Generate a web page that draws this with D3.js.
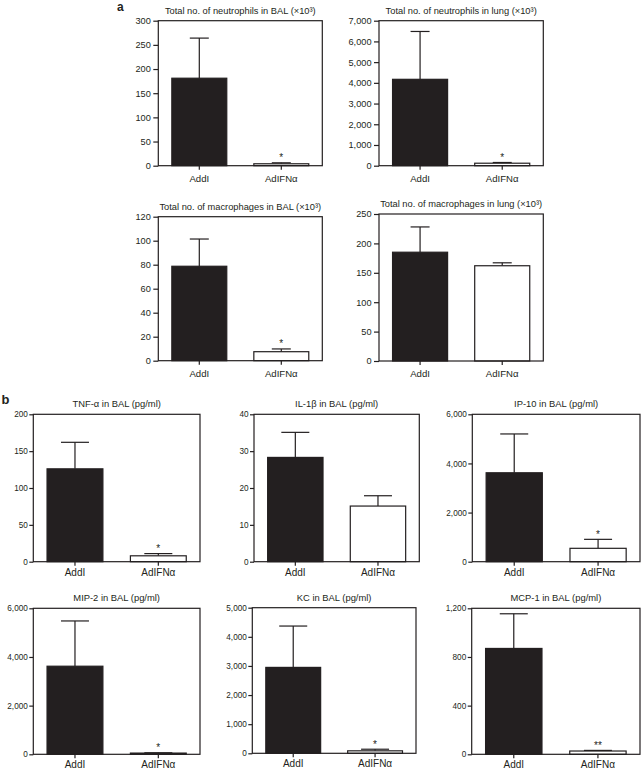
<!DOCTYPE html>
<html>
<head>
<meta charset="utf-8">
<script src="https://cdn.jsdelivr.net/npm/d3@7"></script>
<style>
  html, body { margin: 0; padding: 0; background: #fff; }
  svg { display: block; }
  text { font-family: "Liberation Sans", Arial, Helvetica, sans-serif; fill: #231f20; }
</style>
</head>
<body>
<svg id="chart" width="643" height="771"></svg>
<script>
// ---------------- data ----------------
const categories = ["AddI", "AdIFN\u03b1"];

const titles = [
  "Total no. of neutrophils in BAL (\u00d710\u00b3)",
  "Total no. of neutrophils in lung (\u00d710\u00b3)",
  "Total no. of macrophages in BAL (\u00d710\u00b3)",
  "Total no. of macrophages in lung (\u00d710\u00b3)",
  "TNF-\u03b1 in BAL (pg/ml)",
  "IL-1\u03b2 in BAL (pg/ml)",
  "IP-10 in BAL (pg/ml)",
  "MIP-2 in BAL (pg/ml)",
  "KC in BAL (pg/ml)",
  "MCP-1 in BAL (pg/ml)"
];

const means = [
  [181, 4],
  [4170, 120],
  [78.7, 7.5],
  [185, 162],
  [126, 8],
  [28.3, 15.1],
  [3620, 545],
  [3620, 50],
  [2950, 85],
  [870, 27]
];

const sems = [
  [83, 2],
  [2310, 35],
  [22.7, 2.3],
  [43, 5],
  [36, 3],
  [6.8, 2.8],
  [1580, 365],
  [1860, 12],
  [1420, 55],
  [285, 5]
];

const significance = [
  ["", "*"],
  ["", "*"],
  ["", "*"],
  ["", ""],
  ["", "*"],
  ["", ""],
  ["", "*"],
  ["", "*"],
  ["", "*"],
  ["", "**"]
];

const yMax = [300, 7000, 120, 250, 200, 40, 6000, 6000, 5000, 1200];
const yTickStep = [50, 1000, 20, 50, 50, 10, 2000, 2000, 1000, 400];

const fillColors = ["#231f20", "#ffffff"];

// ---------------- layout (pixel frames per panel) ----------------
const frames = [
  {x0: 158.3, x1: 322.3, y0: 20.7,  y1: 165.7, grp: "a"},
  {x0: 379,   x1: 543.3, y0: 20.7,  y1: 165.7, grp: "a"},
  {x0: 158.3, x1: 322.3, y0: 216.7, y1: 360.7, grp: "a"},
  {x0: 379,   x1: 543.3, y0: 214,   y1: 361,   grp: "a"},
  {x0: 33.3,  x1: 200,   y0: 414.3, y1: 561.7, grp: "b"},
  {x0: 254,   x1: 419.3, y0: 414.3, y1: 561.7, grp: "b"},
  {x0: 472.3, x1: 640,   y0: 414.3, y1: 561.7, grp: "b"},
  {x0: 33.3,  x1: 200,   y0: 608.3, y1: 754.3, grp: "b"},
  {x0: 252.3, x1: 416,   y0: 607.7, y1: 753.3, grp: "b"},
  {x0: 471.7, x1: 640,   y0: 608.3, y1: 754.3, grp: "b"}
];

const styleByGroup = {
  a: {tickFont: 9.2, catFont: 9.6, titleFont: 9.3, capW: 19, tickSize: 5, tickPad: 2.5, catDy: 16},
  b: {tickFont: 8.2, catFont: 10,  titleFont: 9.4, capW: 28, tickSize: 4, tickPad: 1.5, catDy: 14}
};

const svg = d3.select("#chart");
const fmt = d3.format(",");
const stroke = "#231f20";
const lw = 1.2;

frames.forEach((f, i) => {
  const st = styleByGroup[f.grp];
  const w = f.x1 - f.x0, h = f.y1 - f.y0;
  const g = svg.append("g").attr("transform", `translate(${f.x0},${f.y0})`);

  const x = d3.scaleBand().domain(categories).range([0, w])
    .paddingInner(0.33).paddingOuter(0.165);
  const y = d3.scaleLinear().domain([0, yMax[i]]).range([h, 0]);

  const rows = categories.map((c, j) => ({
    cat: c, mean: means[i][j], top: means[i][j] + sems[i][j],
    sig: significance[i][j], fill: fillColors[j]
  }));

  // error bars (upper only)
  g.selectAll(".err").data(rows).enter().append("line")
    .attr("x1", d => x(d.cat) + x.bandwidth() / 2)
    .attr("x2", d => x(d.cat) + x.bandwidth() / 2)
    .attr("y1", d => y(d.mean))
    .attr("y2", d => y(d.top))
    .attr("stroke", stroke).attr("stroke-width", lw);
  g.selectAll(".cap").data(rows).enter().append("line")
    .attr("x1", d => x(d.cat) + x.bandwidth() / 2 - st.capW / 2)
    .attr("x2", d => x(d.cat) + x.bandwidth() / 2 + st.capW / 2)
    .attr("y1", d => y(d.top))
    .attr("y2", d => y(d.top))
    .attr("stroke", stroke).attr("stroke-width", lw);

  // bars
  g.selectAll(".bar").data(rows).enter().append("rect")
    .attr("x", d => x(d.cat))
    .attr("y", d => y(d.mean))
    .attr("width", x.bandwidth())
    .attr("height", d => h - y(d.mean))
    .attr("fill", d => d.fill)
    .attr("stroke", stroke).attr("stroke-width", lw);

  // significance markers
  g.selectAll(".sig").data(rows.filter(d => d.sig)).enter().append("text")
    .attr("x", d => x(d.cat) + x.bandwidth() / 2)
    .attr("y", d => y(d.top) - 1.5)
    .attr("text-anchor", "middle")
    .attr("font-size", 10)
    .text(d => d.sig);

  // y axis
  const yAxis = d3.axisLeft(y)
    .tickValues(d3.range(0, yMax[i] + 1e-9, yTickStep[i]))
    .tickFormat(fmt)
    .tickSize(st.tickSize).tickPadding(st.tickPad);
  const ya = g.append("g").call(yAxis);
  ya.select(".domain").remove();
  ya.selectAll("line").attr("stroke", stroke).attr("stroke-width", lw);
  ya.selectAll("text").attr("font-size", st.tickFont)
    .attr("font-family", "Liberation Sans, Arial, sans-serif").attr("fill", "#231f20");

  // x axis
  const xAxis = d3.axisBottom(x).tickSize(4).tickPadding(st.catDy - 4 - 7);
  const xa = g.append("g").attr("transform", `translate(0,${h})`).call(xAxis);
  xa.select(".domain").remove();
  xa.selectAll("line").attr("stroke", stroke).attr("stroke-width", lw);
  xa.selectAll("text").attr("font-size", st.catFont)
    .attr("font-family", "Liberation Sans, Arial, sans-serif").attr("fill", "#231f20");

  // frame
  g.append("rect").attr("x", 0).attr("y", 0).attr("width", w).attr("height", h)
    .attr("fill", "none").attr("stroke", stroke).attr("stroke-width", lw);

  // title
  g.append("text")
    .attr("x", w / 2).attr("y", -7)
    .attr("text-anchor", "middle")
    .attr("font-size", st.titleFont)
    .text(titles[i]);
});

// panel letters
svg.append("text").attr("x", 117).attr("y", 10.5)
  .attr("font-size", 12).attr("font-weight", "bold").text("a");
svg.append("text").attr("x", 1.5).attr("y", 404)
  .attr("font-size", 13).attr("font-weight", "bold").text("b");
</script>
</body>
</html>
